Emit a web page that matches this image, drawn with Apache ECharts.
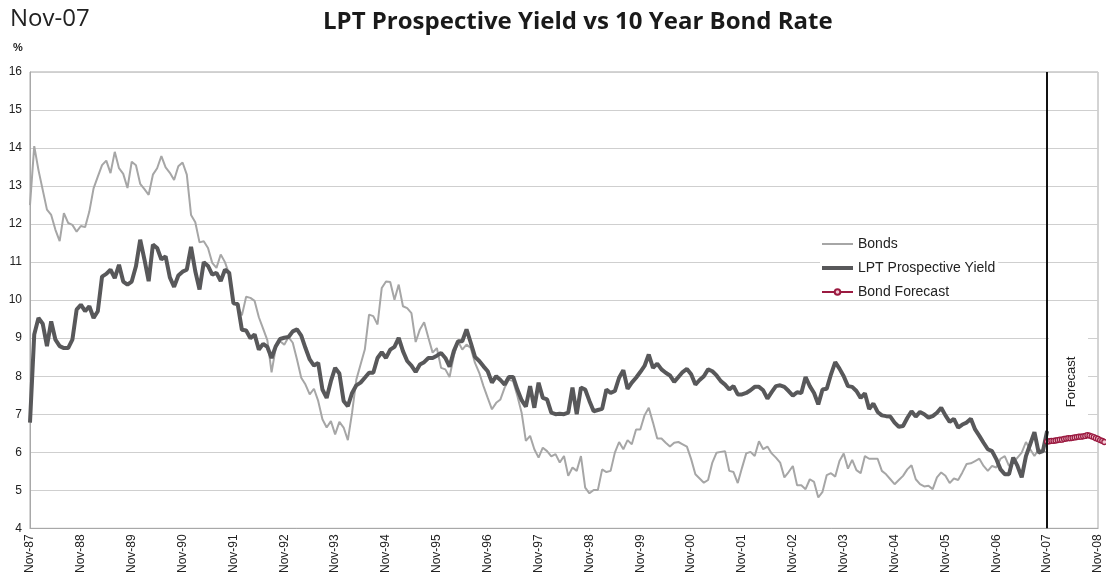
<!DOCTYPE html>
<html>
<head>
<meta charset="utf-8">
<script src="https://cdn.jsdelivr.net/npm/echarts@6/dist/echarts.min.js"></script>
<style>
  html, body { margin: 0; padding: 0; background: #fff; }
  #chart { width: 1106px; height: 576px; }
</style>
</head>
<body>
<div id="chart"></div>
<script>
// Tick labels (one per November, every 12 months)
const tickLabels = ['Nov-87','Nov-88','Nov-89','Nov-90','Nov-91','Nov-92','Nov-93','Nov-94','Nov-95','Nov-96','Nov-97','Nov-98','Nov-99','Nov-00','Nov-01','Nov-02','Nov-03','Nov-04','Nov-05','Nov-06','Nov-07','Nov-08'];

// Monthly 10 year bond rate, Nov-87 .. Nov-07
const bonds = [
12.5,14.05,13.42,12.9,12.38,12.24,11.85,11.55,12.29,12.03,11.98,11.8,11.95,11.92,12.33,12.94,13.25,13.55,13.67,13.34,
13.9,13.47,13.32,12.95,13.64,13.55,13.06,12.92,12.77,13.3,13.47,13.79,13.49,13.35,13.16,13.52,13.62,13.3,12.24,12.05,
11.52,11.55,11.37,10.98,10.85,11.2,11.0,10.68,9.93,9.85,9.6,10.09,10.06,9.98,9.55,9.25,8.95,8.1,8.75,8.92,
8.83,9.03,8.88,8.44,7.96,7.78,7.52,7.67,7.35,6.87,6.65,6.82,6.47,6.8,6.65,6.32,7.04,7.91,8.31,8.7,
9.62,9.58,9.36,10.32,10.49,10.48,10.01,10.41,9.84,9.79,9.66,8.9,9.23,9.42,9.01,8.62,8.74,8.22,8.18,7.98,
8.53,8.92,8.7,8.83,8.74,8.35,8.09,7.74,7.43,7.13,7.3,7.39,7.7,7.91,7.87,7.48,7.04,6.3,6.43,6.08,
5.86,6.12,6.03,5.89,5.95,5.73,5.9,5.38,5.6,5.51,5.9,5.07,4.92,5.01,5.01,5.55,5.48,5.51,5.99,6.27,
6.08,6.32,6.21,6.6,6.6,6.97,7.17,6.78,6.36,6.36,6.25,6.15,6.25,6.27,6.21,6.15,5.82,5.42,5.31,5.2,
5.27,5.73,5.99,6.01,6.03,5.51,5.48,5.19,5.59,5.97,6.01,5.9,6.29,6.08,6.15,5.97,5.86,5.73,5.34,5.48,
5.64,5.13,5.13,5.03,5.29,5.22,4.81,4.96,5.4,5.45,5.36,5.77,5.97,5.57,5.8,5.53,5.45,5.9,5.83,5.83,
5.83,5.51,5.42,5.29,5.16,5.27,5.38,5.55,5.66,5.29,5.16,5.1,5.12,5.03,5.34,5.47,5.38,5.19,5.31,5.27,
5.47,5.69,5.71,5.77,5.83,5.64,5.51,5.64,5.6,5.83,5.9,5.64,5.73,5.86,5.99,6.27,6.08,5.9,6.08,6.03,
5.99
];

// Monthly LPT prospective yield, Nov-87 .. Nov-07
const lpt = [
6.78,9.1,9.53,9.38,8.79,9.44,8.96,8.79,8.74,8.74,8.96,9.75,9.88,9.71,9.84,9.53,9.71,10.62,10.69,10.8,
10.58,10.93,10.49,10.41,10.49,10.89,11.59,11.07,10.5,11.46,11.37,11.07,11.15,10.6,10.35,10.65,10.75,10.8,11.4,10.76,
10.28,11.0,10.9,10.67,10.72,10.5,10.8,10.72,9.92,9.9,9.22,9.2,9.0,9.1,8.7,8.85,8.77,8.48,8.79,8.98,
9.01,9.03,9.18,9.23,9.07,8.74,8.44,8.28,8.35,7.65,7.43,7.87,8.22,8.07,7.35,7.21,7.56,7.76,7.83,7.96,
8.09,8.09,8.48,8.63,8.48,8.7,8.77,9.01,8.66,8.4,8.28,8.11,8.31,8.37,8.48,8.48,8.54,8.61,8.48,8.25,
8.66,8.92,8.92,9.23,8.88,8.51,8.4,8.26,8.13,7.83,8.0,7.9,7.78,7.98,7.98,7.65,7.37,7.2,7.74,7.17,
7.83,7.43,7.39,7.04,7.0,7.01,7.0,7.04,7.7,7.0,7.7,7.65,7.35,7.08,7.11,7.14,7.65,7.56,7.61,7.96,
8.16,7.67,7.83,7.96,8.11,8.27,8.57,8.22,8.33,8.18,8.09,8.02,7.85,7.98,8.11,8.19,8.05,7.78,7.9,8.0,
8.18,8.13,8.02,7.87,7.78,7.65,7.74,7.52,7.52,7.56,7.63,7.72,7.72,7.63,7.41,7.58,7.74,7.76,7.72,7.61,
7.49,7.58,7.56,7.98,7.74,7.56,7.26,7.65,7.67,8.05,8.37,8.2,8.0,7.74,7.72,7.61,7.43,7.55,7.14,7.28,
7.06,6.97,6.95,6.94,6.78,6.67,6.69,6.9,7.08,6.94,7.06,7.0,6.91,6.95,7.04,7.17,6.97,6.8,6.88,6.65,
6.73,6.78,6.88,6.6,6.43,6.25,6.08,6.03,5.82,5.55,5.42,5.42,5.86,5.64,5.34,5.9,6.21,6.53,5.99,6.03,
6.56
];

// Bond forecast, half-monthly from Nov-07
const forecastStartMonth = 240;
const forecastStep = 0.5;
const forecast = [6.28,6.29,6.30,6.30,6.31,6.32,6.33,6.33,6.35,6.36,6.37,6.37,6.38,6.39,6.40,6.41,6.41,6.42,6.43,6.45,6.44,6.42,6.40,6.37,6.35,6.32,6.30,6.27];

const yTicks = { min: 4, max: 16, step: 1 };
const forecastLineMonth = 240;

const chart = echarts.init(document.getElementById('chart'), null, { renderer: 'canvas' });

const option = {
  animation: false,
  backgroundColor: '#ffffff',
  title: {
    text: 'LPT Prospective Yield vs 10 Year Bond Rate',
    left: 318,
    top: 5,
    textStyle: { fontFamily: 'Open Sans', fontWeight: 'bold', fontSize: 24, color: '#1a1a1a' }
  },
  legend: {
    orient: 'vertical',
    left: 820,
    top: 237,
    padding: [0, 3, 0, 0],
    itemWidth: 31,
    itemHeight: 7,
    itemGap: 10,
    backgroundColor: '#ffffff',
    textStyle: { fontFamily: 'Liberation Sans', fontSize: 14, color: '#222' },
    data: [
      { name: 'Bonds', itemStyle: { opacity: 0 }, lineStyle: { width: 2, color: '#a6a6a6' } },
      { name: 'LPT Prospective Yield', itemStyle: { opacity: 0 }, lineStyle: { width: 4, color: '#58585a' } },
      { name: 'Bond Forecast', lineStyle: { width: 2, color: '#9b1b41' } }
    ]
  },
  grid: {
    left: 30, right: 8, top: 72, bottom: 46,
    show: true, borderColor: '#a8a8a8', borderWidth: 1
  },
  xAxis: {
    type: 'value',
    min: 0,
    max: 252,
    interval: 12,
    axisLine: { show: true, lineStyle: { color: '#a8a8a8', width: 1 } },
    axisTick: { show: false },
    splitLine: { show: false },
    axisLabel: {
      rotate: 90,
      margin: 6,
      fontFamily: 'Liberation Sans',
      fontSize: 12,
      color: '#222',
      formatter: function (v) { return tickLabels[Math.round(v / 12)] || ''; }
    }
  },
  yAxis: {
    type: 'value',
    min: yTicks.min,
    max: yTicks.max,
    interval: yTicks.step,
    axisLine: { show: true, lineStyle: { color: '#a8a8a8', width: 1 } },
    axisTick: { show: false },
    splitLine: { show: true, lineStyle: { color: '#cfcfcf', width: 1 } },
    axisLabel: { margin: 8, fontFamily: 'Liberation Sans', fontSize: 12, color: '#222' }
  },
  graphic: [
    { type: 'text', left: 10, top: 7, style: { text: 'Nov-07', fontFamily: 'Open Sans', fontSize: 24, fill: '#222' } },
    { type: 'text', left: 13, top: 42, style: { text: '%', fontFamily: 'Liberation Sans', fontWeight: 'bold', fontSize: 11, fill: '#222' } },
    { type: 'rect', shape: { x: 1049, y: 308, width: 39, height: 130 }, style: { fill: '#ffffff' }, z: 1 },
    { type: 'text', x: 1071, y: 382, rotation: Math.PI / 2, z: 3,
      style: { text: 'Forecast', fontFamily: 'Liberation Sans', fontSize: 13, fill: '#222', textAlign: 'center', textVerticalAlign: 'middle' } }
  ],
  series: [
    {
      name: 'Bonds',
      type: 'line',
      symbol: 'none',
      z: 2,
      lineStyle: { color: '#a6a6a6', width: 2 },
      itemStyle: { color: '#a6a6a6' },
      data: bonds.map(function (v, i) { return [i, v]; })
    },
    {
      name: 'LPT Prospective Yield',
      type: 'line',
      symbol: 'none',
      z: 3,
      lineStyle: { color: '#58585a', width: 4 },
      itemStyle: { color: '#58585a' },
      data: lpt.map(function (v, i) { return [i, v]; }),
      markLine: {
        silent: true,
        symbol: ['none', 'none'],
        label: { show: false },
        lineStyle: { color: '#111', width: 2, type: 'solid' },
        data: [{ xAxis: forecastLineMonth }]
      }
    },
    {
      name: 'Bond Forecast',
      type: 'line',
      clip: false,
      z: 4,
      symbol: 'circle',
      symbolSize: 5,
      lineStyle: { color: '#9b1b41', width: 2 },
      itemStyle: { color: '#f4cbd6', borderColor: '#9b1b41', borderWidth: 1.3 },
      data: forecast.map(function (v, i) { return [forecastStartMonth + i * forecastStep, v]; })
    }
  ]
};

chart.setOption(option);
</script>
</body>
</html>
